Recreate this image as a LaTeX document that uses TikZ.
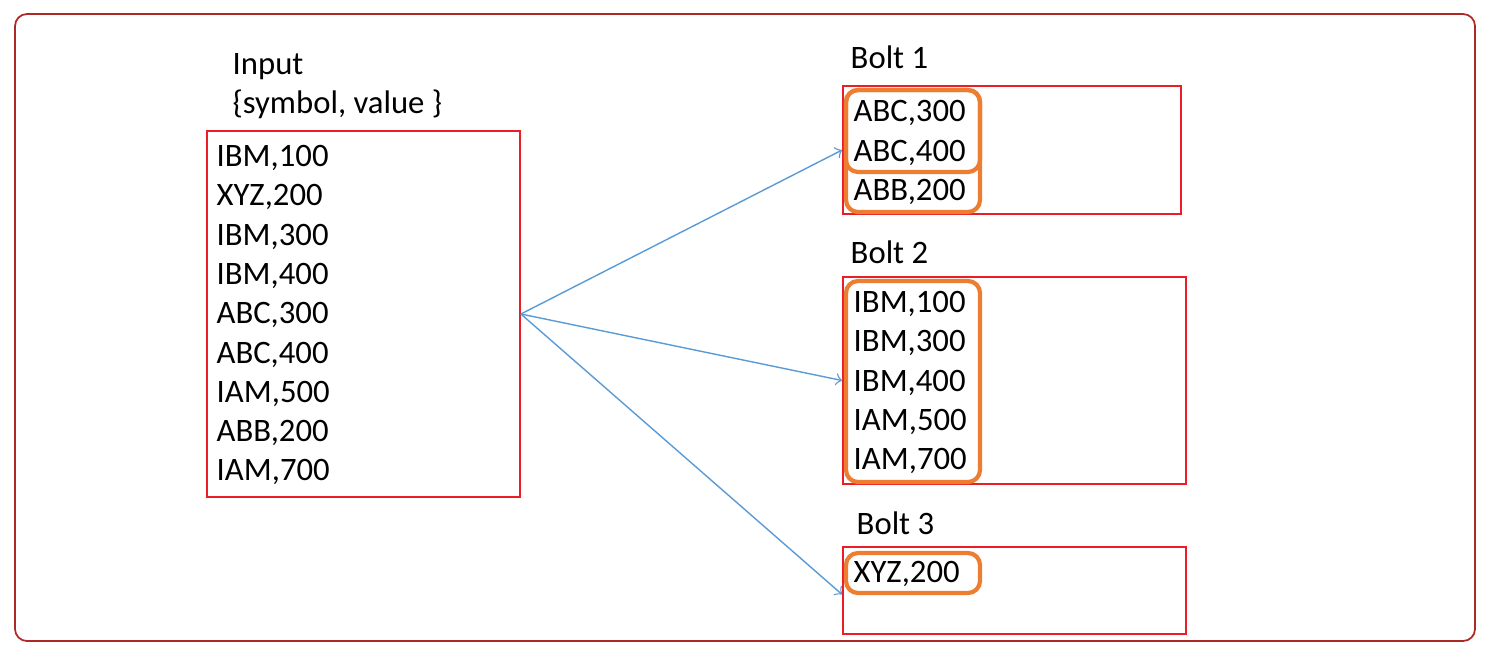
\documentclass[tikz,border=0pt]{standalone}
\usepackage{fontspec}
\setmainfont{Carlito}
\usepackage{xcolor}
\usepackage{tikz}
\usetikzlibrary{arrows, positioning}
\definecolor{frameRed}{RGB}{175, 40, 40}
\definecolor{boxRed}{RGB}{235, 30, 40}
\definecolor{groupOrange}{RGB}{237, 125, 49}
\definecolor{flowBlue}{RGB}{91, 155, 213}

\tikzset{
  redbox/.style={draw=boxRed, line width=0.45pt, inner sep=0pt},
  entry/.style={anchor=base west, inner sep=0pt, font=\fontsize{9.3}{11}\selectfont},
  group/.style={draw=groupOrange, line width=1.2pt, rounded corners=0.12cm},
  flow/.style={draw=flowBlue, line width=0.4pt, ->}
}

\begin{document}
\begin{tikzpicture}[x=0.01cm, y=-0.01cm]
\useasboundingbox (0,0) rectangle (1492,654);
\draw[frameRed, line width=0.5pt, rounded corners=0.12cm] (15,14) rectangle (1475,641);

% input stream
\node[entry] (inTitle) at (232,74.5) {Input};
\node[entry] (inFields) at (232,113) {\{symbol, value \}};
\node[redbox, minimum width=3.13cm, minimum height=3.66cm] (input) at (363.5,314) {};
\foreach \txt [count=\i] in {{IBM,100},{XYZ,200},{IBM,300},{IBM,400},{ABC,300},{ABC,400},{IAM,500},{ABB,200},{IAM,700}}
  \node[entry] (in\i) at (216,{166.5+(\i-1)*39.3}) {\txt};

% bolts
\node[entry] (b1Title) at (850,68.5) {Bolt 1};
\node[redbox, minimum width=3.38cm, minimum height=1.28cm] (bolt1) at (1012,150) {};
\foreach \txt [count=\i] in {{ABC,300},{ABC,400},{ABB,200}}
  \node[entry] (bA\i) at (853,{121.5+(\i-1)*39.5}) {\txt};
\draw[group] (846,90) rectangle (980,212);
\draw[group] (846,90) rectangle (980,172);

\node[entry] (b2Title) at (850,263.5) {Bolt 2};
\node[redbox, minimum width=3.43cm, minimum height=2.07cm] (bolt2) at (1014.5,380.5) {};
\foreach \txt [count=\i] in {{IBM,100},{IBM,300},{IBM,400},{IAM,500},{IAM,700}}
  \node[entry] (bB\i) at (853,{312.5+(\i-1)*39.25}) {\txt};
\draw[group] (846,281) rectangle (980,482);

\node[entry] (b3Title) at (856,534.5) {Bolt 3};
\node[redbox, minimum width=3.43cm, minimum height=0.87cm] (bolt3) at (1014.5,590.5) {};
\node[entry] (bC1) at (853,582.5) {XYZ,200};
\draw[group] (846,553) rectangle (980,593);

% grouping
\draw[flow] (input.east) -- (bolt1.west);
\draw[flow] (input.east) -- (bolt2.west);
\draw[flow] (input.east) -- ([yshift=-0.04cm]bolt3.west);
\end{tikzpicture}
\end{document}
